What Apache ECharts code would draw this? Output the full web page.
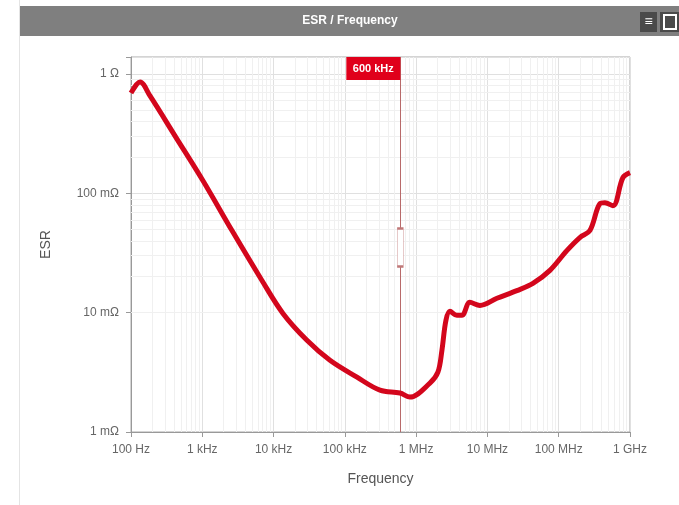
<!DOCTYPE html>
<html lang="en" style="height: 100%">
<head>
    <meta charset="UTF-8">
    <title>ESR / Frequency</title>
    <script type="text/javascript" src="https://cdn.jsdelivr.net/npm/echarts@6/dist/echarts.min.js"></script>
</head>
<body style="height: 100%;margin: 0;background:#fff">

<div id="contar" style="width:679px;height:505px"></div>

<script type="text/javascript">
    // frequency (Hz) and ESR (ohm)
    var freqHz = [100, 134, 185, 414, 1023, 2610, 6870, 13540, 29400, 61800, 148000, 311000, 593000, 818000,
        1.56e6, 2.02e6, 2.30e6, 2.62e6, 2.98e6, 3.73e6, 4.39e6, 5.68e6, 7.85e6, 1.36e7, 2.59e7, 4.35e7,
        7.53e7, 1.30e8, 1.98e8, 2.74e8, 3.79e8, 4.45e8, 5.76e8, 7.94e8, 1e9];
    var esrOhm = [0.692, 0.855, 0.654, 0.303, 0.1274, 0.0487, 0.0186, 0.00986, 0.00587, 0.00399, 0.00288, 0.00224, 0.00212, 0.00196,
        0.00257, 0.00317, 0.00484, 0.00863, 0.01025, 0.00949, 0.00949, 0.0122, 0.0115, 0.0132, 0.0153, 0.0176,
        0.0226, 0.0331, 0.0426, 0.0487, 0.0819, 0.0834, 0.0787, 0.135, 0.149];

    var xTickLabels = ['100 Hz', '1 kHz', '10 kHz', '100 kHz', '1 MHz', '10 MHz', '100 MHz', '1 GHz'];
    var yTickLabels = ['1 mΩ', '10 mΩ', '100 mΩ', '1 Ω'];

    var markerFreq = 600000;
    var markerLabel = '600 kHz';
    var handleEsr = 0.0351;

    var xMin = 100, xMax = 1e9, yMin = 0.001, yMax = 1.387;

    // minor log grid lines (2..9 of each decade)
    var minorX = [], minorY = [];
    for (var d = xMin; d < xMax; d *= 10) {
        for (var m = 2; m < 10; m++) minorX.push({xAxis: d * m});
    }
    for (var e = yMin; e < 1; e *= 10) {
        for (var n = 2; n < 10; n++) minorY.push({yAxis: e * n});
    }

    var data = [];
    for (var i = 0; i < freqHz.length; i++) data.push([freqHz[i], esrOhm[i]]);

    var chart = echarts.init(document.getElementById('contar'));
    var font = 'Liberation Sans, Arial, sans-serif';

    var option = {
        animation: false,
        textStyle: {fontFamily: font},
        grid: {left: 131, right: 49, top: 57, bottom: 73, show: true, borderColor: '#a8a8a8', borderWidth: 1},
        graphic: [
            {type: 'rect', shape: {x: 19, y: 0, width: 1, height: 505}, style: {fill: '#e4e4e4'}, silent: true},
            {type: 'rect', shape: {x: 20, y: 6, width: 659, height: 30}, style: {fill: '#7f7f7f'}, silent: true},
            {type: 'text', x: 350, y: 21, style: {text: 'ESR / Frequency', fill: '#fff', font: 'bold 12px ' + font, textAlign: 'center', textVerticalAlign: 'middle'}},
            {type: 'rect', shape: {x: 640, y: 12, width: 17, height: 20}, style: {fill: '#4a4a4a'}},
            {type: 'text', x: 648.5, y: 22, style: {text: '≡', fill: '#fff', font: 'bold 14px ' + font, textAlign: 'center', textVerticalAlign: 'middle'}},
            {type: 'rect', shape: {x: 660, y: 12, width: 19, height: 20}, style: {fill: '#4a4a4a'}},
            {type: 'rect', shape: {x: 664, y: 15, width: 12, height: 14}, style: {fill: 'none', stroke: '#fff', lineWidth: 2}}
        ],
        xAxis: {
            type: 'log',
            logBase: 10,
            min: xMin,
            max: xMax,
            name: 'Frequency',
            nameLocation: 'middle',
            nameGap: 40,
            nameTextStyle: {color: '#555', fontSize: 14},
            axisLine: {lineStyle: {color: '#999'}},
            axisTick: {length: 5, lineStyle: {color: '#999'}},
            axisLabel: {
                color: '#666', fontSize: 12, margin: 12,
                formatter: function (v) {
                    var k = Math.round(Math.log10(v)) - 2;
                    return xTickLabels[k] || '';
                }
            },
            splitLine: {show: true, lineStyle: {color: '#e0e0e0'}}
        },
        yAxis: {
            type: 'log',
            logBase: 10,
            min: yMin,
            max: yMax,
            name: 'ESR',
            nameLocation: 'middle',
            nameGap: 78,
            nameTextStyle: {color: '#555', fontSize: 14},
            axisLine: {show: true, lineStyle: {color: '#999'}},
            axisTick: {show: true, length: 5, lineStyle: {color: '#999'}},
            axisLabel: {
                color: '#666', fontSize: 12, margin: 12,
                formatter: function (v) {
                    var lg = Math.log10(v);
                    if (Math.abs(lg - Math.round(lg)) > 0.01) return '';
                    return yTickLabels[Math.round(lg) + 3] || '';
                }
            },
            splitLine: {show: true, lineStyle: {color: '#e0e0e0'}}
        },
        series: [
            {
                // minor grid
                type: 'line',
                data: [],
                silent: true,
                z: 1,
                markLine: {
                    silent: true,
                    z: 1,
                    symbol: 'none',
                    label: {show: false},
                    lineStyle: {color: '#f0f0f0', width: 1, type: 'solid'},
                    data: minorX.concat(minorY)
                }
            },
            {
                name: 'ESR',
                type: 'line',
                data: data,
                smooth: 0.35,
                showSymbol: false,
                z: 3,
                lineStyle: {color: '#d3061c', width: 5},
                itemStyle: {color: '#d3061c'},
                markLine: {
                    silent: true,
                    z: 2,
                    symbol: 'none',
                    label: {show: false},
                    lineStyle: {color: '#b86a6a', width: 1, type: 'solid'},
                    data: [{xAxis: markerFreq}]
                },
                markPoint: {
                    silent: true,
                    z: 6,
                    data: [{
                        coord: [markerFreq, yMax],
                        symbol: 'rect',
                        symbolSize: [54, 23],
                        symbolOffset: [-27, 11.5],
                        itemStyle: {color: '#e0001b'},
                        label: {show: true, position: 'inside', formatter: markerLabel, color: '#fff', fontSize: 11, fontWeight: 'bold'}
                    }]
                }
            },
            {
                // drag handle on the marker line
                type: 'scatter',
                data: [[markerFreq, handleEsr]],
                symbol: 'rect',
                symbolSize: [6, 38],
                zlevel: 1,
                silent: true,
                itemStyle: {color: '#fff', borderColor: '#c07878', borderWidth: 1, opacity: 1}
            }
        ]
    };

    chart.setOption(option);
</script>

</body>
</html>
